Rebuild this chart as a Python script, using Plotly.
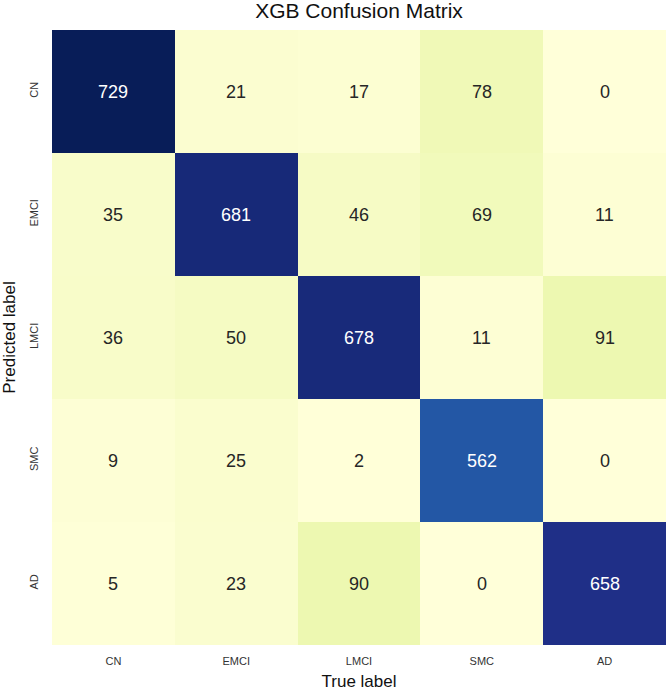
import plotly.graph_objects as go

labels = ["CN", "EMCI", "LMCI", "SMC", "AD"]
# rows = predicted label, columns = true label
matrix = [
    [729, 21, 17, 78, 0],
    [35, 681, 46, 69, 11],
    [36, 50, 678, 11, 91],
    [9, 25, 2, 562, 0],
    [5, 23, 90, 0, 658],
]

ylgnbu = ["#ffffd9", "#edf8b1", "#c7e9b4", "#7fcdbb", "#41b6c4",
          "#1d91c0", "#225ea8", "#253494", "#081d58"]
colorscale = [[i / (len(ylgnbu) - 1), c] for i, c in enumerate(ylgnbu)]

zmax = max(max(r) for r in matrix)

fig = go.Figure(go.Heatmap(
    z=matrix, x=labels, y=labels,
    colorscale=colorscale, zmin=0, zmax=zmax,
    showscale=False, hoverinfo="z",
))

FONT = "Liberation Sans, Arial"
annotations = []
for i, row in enumerate(matrix):
    for j, v in enumerate(row):
        frac = v / zmax
        color = "white" if frac > 0.6 else "#262626"
        annotations.append(dict(
            x=labels[j], y=labels[i], text=str(v), showarrow=False,
            font=dict(family=FONT, size=18, color=color),
        ))

fig.update_layout(
    width=668, height=691,
    margin=dict(l=52, r=2, t=30, b=46, autoexpand=False),
    paper_bgcolor="white", plot_bgcolor="white",
    annotations=annotations,
    title=dict(text="XGB Confusion Matrix", x=0.5, xref="paper", xanchor="center",
               y=1 - 11 / 691, yanchor="middle", automargin=False,
               font=dict(family=FONT, size=21, color="#111")),
    xaxis=dict(title=dict(text="True label", standoff=10,
                          font=dict(family=FONT, size=17, color="#111")),
               tickfont=dict(family=FONT, size=11, color="#333"),
               ticklabelstandoff=8,
               automargin=False,
               showgrid=False, zeroline=False, ticks="", ticklen=0, showline=False),
    yaxis=dict(title=dict(text="Predicted label", standoff=9,
                          font=dict(family=FONT, size=17, color="#111")),
               tickfont=dict(family=FONT, size=11, color="#333"),
               ticklabelstandoff=11,
               automargin=False,
               tickangle=-90, autorange="reversed",
               showgrid=False, zeroline=False, ticks="", showline=False),
)

fig.write_html("out.html", config={"displayModeBar": False},
               post_script="document.body.style.margin='0';")
